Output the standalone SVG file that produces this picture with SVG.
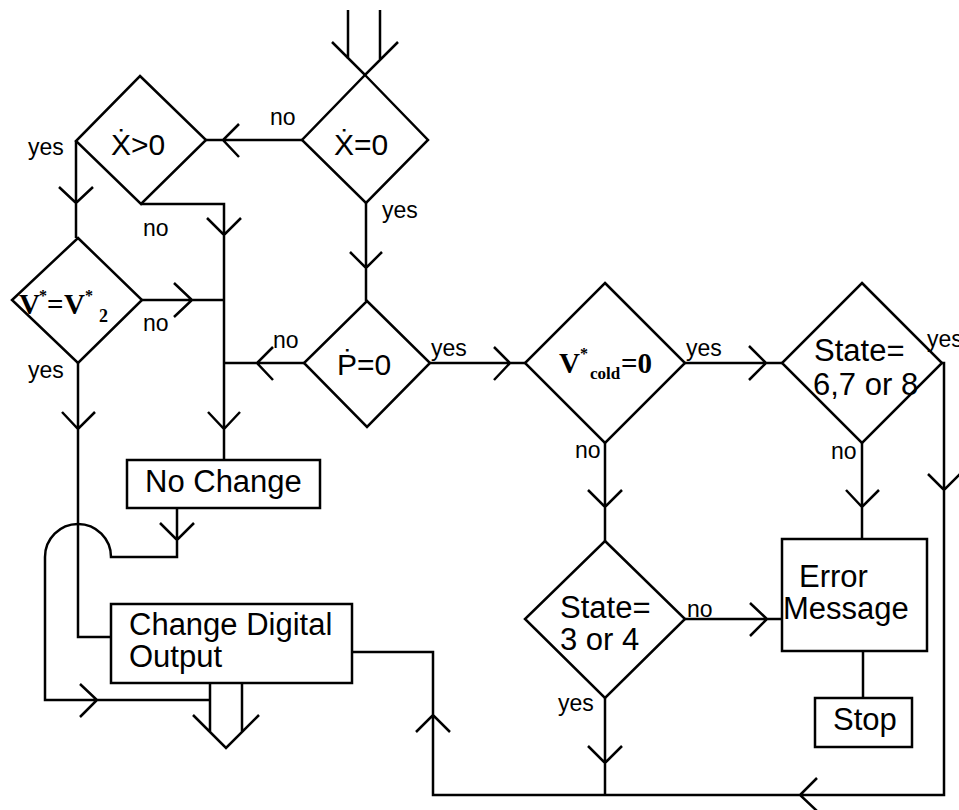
<svg xmlns="http://www.w3.org/2000/svg" width="959" height="810" viewBox="0 0 959 810">
<style>
.ln{fill:none;stroke:#000;stroke-width:2.5;stroke-linejoin:miter}
.sh{fill:#fff;stroke:#000;stroke-width:2.5}
.t{font-family:"Liberation Sans",Arial,"DejaVu Sans",sans-serif;font-size:31px;fill:#000}
.d{font-family:"Liberation Sans",Arial,"DejaVu Sans",sans-serif;font-size:30px;fill:#000}
.lb{font-family:"Liberation Sans",Arial,sans-serif;font-size:23px;fill:#000}
.m{font-family:"Liberation Serif","Times New Roman",serif;font-weight:bold;fill:#000}
</style>
<rect width="959" height="810" fill="#fff"/>
<g id="connectors" class="ln">
  <path d="M348,10 V59 M380,10 V59 M332,42 L365,75 L398,42"/>
  <path d="M302,140 H206 M239,124 L223,140 L239,157"/>
  <path d="M76,141 V238 M59,187 L76,203 L93,187"/>
  <path d="M141,204 H224 V460 M207,218 L224,235 L241,218 M208,412 L224,429 L240,412"/>
  <path d="M142,300 H224 M174,283 L192,300 L174,317"/>
  <path d="M304,363 H224 M273,347 L257,363 L273,380"/>
  <path d="M366,203 V301 M350,252 L366,268 L382,252"/>
  <path d="M430,363 H525 M494,347 L510,363 L494,380"/>
  <path d="M685,363 H782 M749,346 L766,363 L749,380"/>
  <path d="M605,443 V541 M588,490 L605,507 L622,490"/>
  <path d="M862,443 V539 M846,490 L862,507 L879,490"/>
  <path d="M942,363 H944 V795 H433 V652 H352 M928,474 L944,490 L960,474 M817,778 L800,795 L817,811 M416,732 L433,715 L450,732"/>
  <path d="M685,619 H782 M750,603 L767,619 L750,636"/>
  <path d="M605,698 V795 M588,746 L605,763 L622,746"/>
  <path d="M863,651 V698"/>
  <path d="M78,363 V637 H111 M62,412 L78,429 L95,412"/>
  <path d="M177,508 V557 H111 A33,33 0 0 0 45,557 V700 H210 M160,523 L177,540 L194,523 M80,684 L97,700 L80,717"/>
  <path d="M210,683 V732 M242,683 V732 M193,715 L226,748 L259,715"/>
</g>
<g id="n_x0">
  <polygon class="sh" points="365,75 428,140 366,203 302,140"/>
  <text class="d" x="334" y="155">Ẋ=0</text>
</g>
<g id="n_xgt0">
  <polygon class="sh" points="140,76 206,140 141,204 76,141"/>
  <text class="d" x="111" y="155">Ẋ&gt;0</text>
</g>
<g id="n_v2">
  <polygon class="sh" points="78,238 142,300 78,363 12,300"/>
  <text class="m" font-size="29"><tspan x="19" y="314">V</tspan><tspan x="39" y="301" font-size="16">*</tspan><tspan x="47" y="314">=</tspan><tspan x="64" y="314">V</tspan><tspan x="85" y="301" font-size="16">*</tspan><tspan x="99" y="322" font-size="18">2</tspan></text>
</g>
<g id="n_p0">
  <polygon class="sh" points="367,301 430,363 367,427 304,363"/>
  <text class="d" x="337" y="375">Ṗ=0</text>
</g>
<g id="n_vcold">
  <polygon class="sh" points="605,283 685,363 605,443 525,363"/>
  <text class="m" font-size="29"><tspan x="559" y="373">V</tspan><tspan x="580" y="359" font-size="16">*</tspan><tspan x="590" y="379" font-size="17">cold</tspan><tspan x="621" y="373">=0</tspan></text>
</g>
<g id="n_state678">
  <polygon class="sh" points="862,283 942,363 862,443 782,363"/>
  <text class="t"><tspan x="814" y="361">State=</tspan><tspan x="813" y="395">6,7 or 8</tspan></text>
</g>
<g id="n_state34">
  <polygon class="sh" points="605,541 685,619 605,698 525,619"/>
  <text class="t"><tspan x="560" y="618">State=</tspan><tspan x="560" y="650">3 or 4</tspan></text>
</g>
<g id="n_nochange">
  <rect class="sh" x="127" y="460" width="193" height="48"/>
  <text class="t" x="145" y="492">No Change</text>
</g>
<g id="n_cdo">
  <rect class="sh" x="111" y="604" width="241" height="79"/>
  <text class="t"><tspan x="129" y="635">Change Digital</tspan><tspan x="129" y="667">Output</tspan></text>
</g>
<g id="n_error">
  <rect class="sh" x="782" y="539" width="145" height="112"/>
  <text class="t"><tspan x="799" y="587">Error</tspan><tspan x="783" y="619">Message</tspan></text>
</g>
<g id="n_stop">
  <rect class="sh" x="815" y="698" width="97" height="49"/>
  <text class="t" x="833" y="730">Stop</text>
</g>
<g id="labels" class="lb">
  <text x="270" y="125">no</text>
  <text x="28" y="155">yes</text>
  <text x="143" y="236">no</text>
  <text x="382" y="218">yes</text>
  <text x="143" y="331">no</text>
  <text x="28" y="378">yes</text>
  <text x="273" y="348">no</text>
  <text x="431" y="356">yes</text>
  <text x="686" y="356">yes</text>
  <text x="927" y="347">yes</text>
  <text x="575" y="458">no</text>
  <text x="831" y="459">no</text>
  <text x="687" y="617">no</text>
  <text x="558" y="711">yes</text>
</g>
</svg>
